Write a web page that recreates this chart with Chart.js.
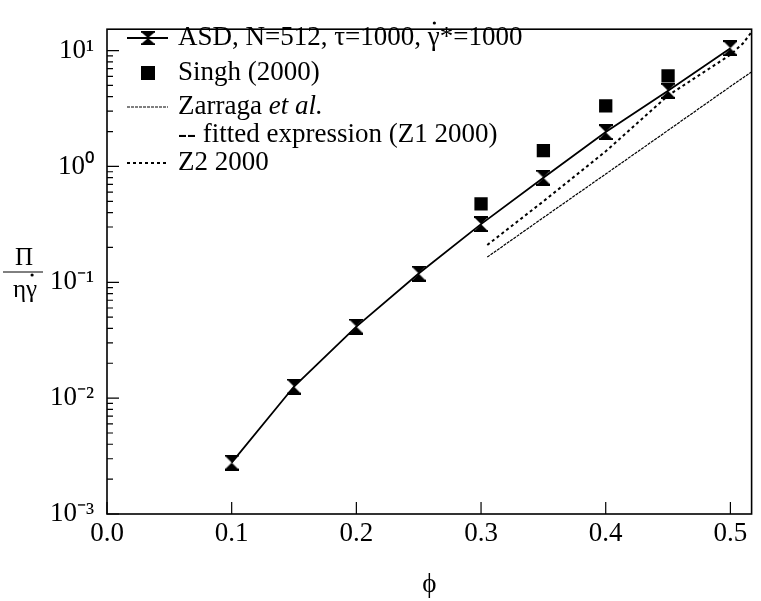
<!DOCTYPE html>
<html>
<head>
<meta charset="utf-8">
<title>Osmotic pressure vs volume fraction</title>
<script src="https://cdn.jsdelivr.net/npm/chart.js@4.4.1/dist/chart.umd.min.js"></script>
<style>
  html, body { margin: 0; padding: 0; background: #fff; }
  #wrap { width: 761px; height: 601px; }
</style>
</head>
<body>
<div id="wrap"><canvas id="piChart" width="761" height="601"></canvas></div>
<script>
/* ASD simulations, N=512 */
const phiASD = [0.1, 0.15, 0.2, 0.25, 0.3, 0.35, 0.4, 0.45, 0.5];
const piASD = [0.00278, 0.0126, 0.0415, 0.119, 0.318, 0.80, 1.98, 4.5, 10.5];

/* Singh (2000) */
const phiSingh = [0.3, 0.35, 0.4, 0.45];
const piSingh = [0.476, 1.37, 3.33, 6.05];

/* Zarraga et al. fitted expression (Z1 2000) */
const phiZ1 = [0.305, 0.35, 0.4, 0.45, 0.5, 0.52];
const piZ1 = [0.165, 0.362, 0.86, 2.05, 4.9, 6.9];

/* Z2 2000 */
const phiZ2 = [0.305, 0.35, 0.4, 0.45, 0.5, 0.51, 0.52];
const piZ2 = [0.21, 0.5, 1.35, 4.1, 9.2, 11.5, 16];

const xTicks = [0, 0.1, 0.2, 0.3, 0.4, 0.5];
const yTicks = [1e-3, 1e-2, 1e-1, 1, 10];
const yTickLabels = ['10⁻³', '10⁻²', '10⁻¹', '10⁰', '10¹'];

const serif = "'Liberation Serif', 'Times New Roman', serif";

const toPoints = (xs, ys) => xs.map((x, i) => ({x: x, y: ys[i]}));

// hourglass marker = error bar with triangle caps
function makeHourglass(w, h) {
    const c = document.createElement('canvas');
    c.width = w;
    c.height = h;
    const g = c.getContext('2d');
    g.fillStyle = '#000';
    g.fillRect(0, 0, w, 2);
    g.fillRect(0, h - 2, w, 2);
    g.beginPath();
    g.moveTo(0, 1); g.lineTo(w, 1); g.lineTo(w / 2, h / 2); g.closePath();
    g.moveTo(0, h - 1); g.lineTo(w, h - 1); g.lineTo(w / 2, h / 2); g.closePath();
    g.fill();
    return c;
}
const hourglass = makeHourglass(14, 16);

// text with a dot over the gamma (shear rate)
function gammaDot(ctx, before, after, x, y) {
    ctx.fillText(before + '\u03B3' + after, x, y);
    const align = ctx.textAlign;
    let left = x;
    const full = ctx.measureText(before + '\u03B3' + after).width;
    if (align === 'center') left = x - full / 2;
    const gx = left + ctx.measureText(before).width + ctx.measureText('\u03B3').width * 0.55;
    ctx.beginPath();
    ctx.arc(gx, y - 15, 1.6, 0, Math.PI * 2);
    ctx.fill();
}

/* Box frame and inward tick marks */
const frameTicks = {
    id: 'frameTicks',
    afterDatasetsDraw(chart) {
        const {ctx, chartArea: a, scales: {x, y}} = chart;
        ctx.save();
        ctx.strokeStyle = '#000';
        ctx.lineWidth = 1.6;
        ctx.strokeRect(a.left, a.top, a.right - a.left, a.bottom - a.top);
        ctx.lineWidth = 1.2;
        ctx.beginPath();
        xTicks.forEach(v => {
            const px = x.getPixelForValue(v);
            ctx.moveTo(px, a.bottom);
            ctx.lineTo(px, a.bottom - 12);
        });
        for (let e = -3; e <= 1; e++) {
            for (let k = 1; k <= 9; k++) {
                const v = k * Math.pow(10, e);
                if (v > y.max) break;
                const py = y.getPixelForValue(v);
                ctx.moveTo(a.left, py);
                ctx.lineTo(a.left + (k === 1 ? 12 : 6), py);
            }
        }
        ctx.stroke();
        ctx.restore();
    }
};

/* Legend box in the upper left + y axis fraction label */
const customLegend = {
    id: 'customLegend',
    afterDraw(chart) {
        const ctx = chart.ctx;
        ctx.save();
        ctx.fillStyle = '#000';
        ctx.strokeStyle = '#000';
        ctx.textBaseline = 'middle';
        ctx.textAlign = 'left';
        const x0 = 127, x1 = 168, tx = 178;
        const rows = [38, 73, 107, 135, 163];

        // ASD
        ctx.lineWidth = 1.8;
        ctx.beginPath();
        ctx.moveTo(x0, rows[0]); ctx.lineTo(x1, rows[0]);
        ctx.stroke();
        ctx.drawImage(hourglass, 148 - 7, rows[0] - 7, 14, 14);
        ctx.font = '27px ' + serif;
        gammaDot(ctx, 'ASD, N=512, \u03C4=1000, ', '*=1000', tx, rows[0]);

        // Singh
        ctx.fillRect(148 - 7, rows[1] - 7, 14, 14);
        ctx.fillText('Singh (2000)', tx, rows[1]);

        // Zarraga
        ctx.lineWidth = 1.2;
        ctx.setLineDash([3, 1]);
        ctx.beginPath();
        ctx.moveTo(x0, rows[2]); ctx.lineTo(x1, rows[2]);
        ctx.stroke();
        ctx.fillText('Zarraga ', tx, rows[2]);
        const w = ctx.measureText('Zarraga ').width;
        ctx.font = 'italic 27px ' + serif;
        ctx.fillText('et al.', tx + w, rows[2]);
        ctx.font = '27px ' + serif;
        ctx.fillText('-- fitted expression (Z1 2000)', tx, rows[3]);

        // Z2
        ctx.lineWidth = 2;
        ctx.setLineDash([3, 3]);
        ctx.beginPath();
        ctx.moveTo(x0, rows[4]); ctx.lineTo(x1, rows[4]);
        ctx.stroke();
        ctx.setLineDash([]);
        ctx.fillText('Z2 2000', tx, rows[4]);

        // y axis title: Pi over eta gamma-dot
        ctx.textAlign = 'center';
        ctx.font = '25px ' + serif;
        ctx.fillText('\u03A0', 24, 258);
        ctx.lineWidth = 1;
        ctx.beginPath();
        ctx.moveTo(3, 272); ctx.lineTo(43, 272);
        ctx.stroke();
        gammaDot(ctx, '\u03B7', '', 25, 290);
        ctx.restore();
    }
};

new Chart(document.getElementById('piChart'), {
    type: 'line',
    data: {
        datasets: [{
            label: 'ASD, N=512, τ=1000, γ̇*=1000',
            data: toPoints(phiASD, piASD),
            borderColor: '#000',
            backgroundColor: '#000',
            borderWidth: 1.8,
            pointStyle: hourglass,
            pointRadius: 7,
            tension: 0
        }, {
            label: 'Singh (2000)',
            data: toPoints(phiSingh, piSingh),
            showLine: false,
            pointStyle: 'rect',
            pointRadius: 9.4,
            borderWidth: 0,
            backgroundColor: '#000',
            borderColor: '#000'
        }, {
            label: 'Zarraga et al. -- fitted expression (Z1 2000)',
            data: toPoints(phiZ1, piZ1),
            borderColor: '#000',
            borderWidth: 1.2,
            borderDash: [3, 1],
            pointRadius: 0,
            tension: 0
        }, {
            label: 'Z2 2000',
            data: toPoints(phiZ2, piZ2),
            borderColor: '#000',
            borderWidth: 2,
            borderDash: [3, 3],
            pointRadius: 0,
            tension: 0
        }]
    },
    options: {
        responsive: false,
        animation: false,
        layout: { padding: { top: 14, right: 1, left: 0, bottom: 0 } },
        plugins: {
            legend: { display: false },
            tooltip: { enabled: false }
        },
        scales: {
            x: {
                type: 'linear',
                min: 0,
                max: 0.517,
                afterBuildTicks: s => { s.ticks = xTicks.map(v => ({value: v})); },
                afterFit: s => { s.height = 87; },
                grid: { display: false, drawTicks: false },
                border: { display: false },
                ticks: {
                    color: '#000',
                    font: { family: serif, size: 27 },
                    padding: 4,
                    maxRotation: 0,
                    callback: v => Number(v).toFixed(1)
                },
                title: {
                    display: true,
                    text: 'ϕ',
                    color: '#000',
                    font: { family: serif, size: 27 },
                    padding: { top: 0, bottom: 0 }
                }
            },
            y: {
                type: 'logarithmic',
                min: 0.001,
                max: 15.3,
                afterBuildTicks: s => { s.ticks = yTicks.map(v => ({value: v})); },
                afterFit: s => { s.width = 107; },
                grid: { display: false, drawTicks: false },
                border: { display: false },
                ticks: {
                    color: '#000',
                    font: { family: serif, size: 27 },
                    padding: 13,
                    callback: (v, i) => yTickLabels[i]
                }
            }
        }
    },
    plugins: [frameTicks, customLegend]
});
</script>
</body>
</html>
